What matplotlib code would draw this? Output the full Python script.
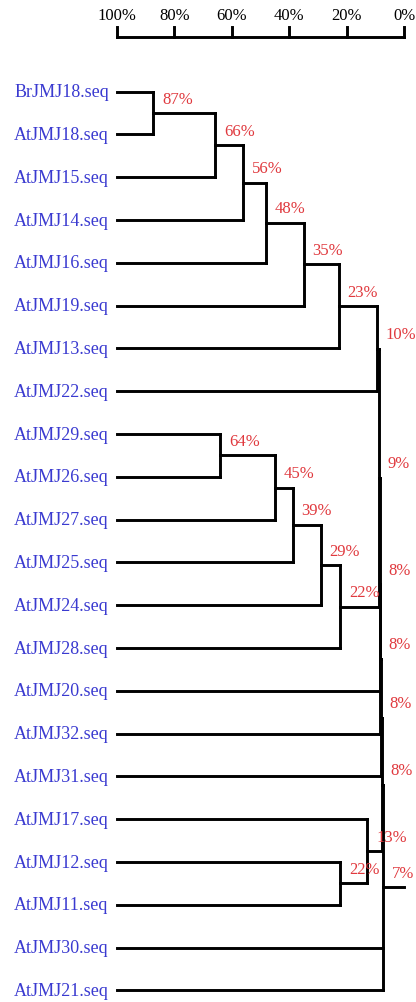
import matplotlib
matplotlib.use("Agg")
import matplotlib.pyplot as plt

# ---------------- data ----------------
leaves = ["BrJMJ18.seq", "AtJMJ18.seq", "AtJMJ15.seq", "AtJMJ14.seq", "AtJMJ16.seq",
          "AtJMJ19.seq", "AtJMJ13.seq", "AtJMJ22.seq", "AtJMJ29.seq", "AtJMJ26.seq",
          "AtJMJ27.seq", "AtJMJ25.seq", "AtJMJ24.seq", "AtJMJ28.seq", "AtJMJ20.seq",
          "AtJMJ32.seq", "AtJMJ31.seq", "AtJMJ17.seq", "AtJMJ12.seq", "AtJMJ11.seq",
          "AtJMJ30.seq", "AtJMJ21.seq"]

node_names = ["n87", "n66", "n56", "n48", "n35", "n23", "n10",
              "n64", "n45", "n39", "n29", "n22a", "n9",
              "n8a", "n8b", "n8c", "n22b", "n13", "n8d", "root"]
node_children = [
    ["BrJMJ18.seq", "AtJMJ18.seq"],
    ["n87", "AtJMJ15.seq"],
    ["n66", "AtJMJ14.seq"],
    ["n56", "AtJMJ16.seq"],
    ["n48", "AtJMJ19.seq"],
    ["n35", "AtJMJ13.seq"],
    ["n23", "AtJMJ22.seq"],
    ["AtJMJ29.seq", "AtJMJ26.seq"],
    ["n64", "AtJMJ27.seq"],
    ["n45", "AtJMJ25.seq"],
    ["n39", "AtJMJ24.seq"],
    ["n29", "AtJMJ28.seq"],
    ["n10", "n22a"],
    ["n9", "AtJMJ20.seq"],
    ["n8a", "AtJMJ32.seq"],
    ["n8b", "AtJMJ31.seq"],
    ["AtJMJ12.seq", "AtJMJ11.seq"],
    ["AtJMJ17.seq", "n22b"],
    ["n8c", "n13"],
    ["n8d", "AtJMJ30.seq", "AtJMJ21.seq"],
]
node_heights = [87.3, 65.8, 56.0, 48.2, 35.1, 22.9, 9.6,
                64.0, 45.0, 38.8, 29.0, 22.3, 8.8,
                8.6, 8.5, 8.3, 22.3, 12.9, 7.8, 7.3]
node_labels = ["87%", "66%", "56%", "48%", "35%", "23%", "10%",
               "64%", "45%", "39%", "29%", "22%", "9%",
               "8%", "8%", "8%", "22%", "13%", "8%", "7%"]

scale_ticks = [100, 80, 60, 40, 20, 0]
scale_labels = ["100%", "80%", "60%", "40%", "20%", "0%"]

# ---------------- style ----------------
leaf_color = "#3a3ad0"
label_color = "#e0393e"
lw = 2.1
serif = ["Liberation Serif", "DejaVu Serif"]

fig = plt.figure(figsize=(4.16, 10.03), dpi=100)
ax = fig.add_axes([0, 0, 1, 1])
ax.set_xlim(140.6, -4.0)
ax.set_ylim(21.27, -2.166)
ax.axis("off")

# positions
pos_y = {name: i for i, name in enumerate(leaves)}
pos_x = {name: 100.0 for name in leaves}

for name, ch, h, lab in zip(node_names, node_children, node_heights, node_labels):
    ys = [pos_y[c] for c in ch]
    for c in ch:
        ax.plot([pos_x[c], h], [pos_y[c], pos_y[c]], color="black", lw=lw,
                solid_capstyle="projecting")
    ax.plot([h, h], [min(ys), max(ys)], color="black", lw=lw,
            solid_capstyle="projecting")
    mid = (min(ys) + max(ys)) / 2.0
    pos_y[name] = mid
    pos_x[name] = h
    ax.text(h - 3.0, mid - 0.34, lab, color=label_color, fontsize=12,
            family=serif, ha="left", va="center")

# root stub
ax.plot([pos_x["root"], 0], [pos_y["root"], pos_y["root"]], color="black", lw=lw)

# leaf labels
for name in leaves:
    ax.text(135.7, pos_y[name], name, color=leaf_color, fontsize=13,
            family=serif, ha="left", va="center")

# top scale bar
bar_y = -1.271
tick_top = -1.505
ax.plot([scale_ticks[0], scale_ticks[-1]], [bar_y, bar_y], color="black", lw=lw,
        solid_capstyle="projecting")
for t, tl in zip(scale_ticks, scale_labels):
    ax.plot([t, t], [bar_y, tick_top], color="black", lw=lw)
    ax.text(t, -1.80, tl, color="black", fontsize=12, family=serif,
            ha="center", va="center")

fig.savefig("out.png", dpi=100)
